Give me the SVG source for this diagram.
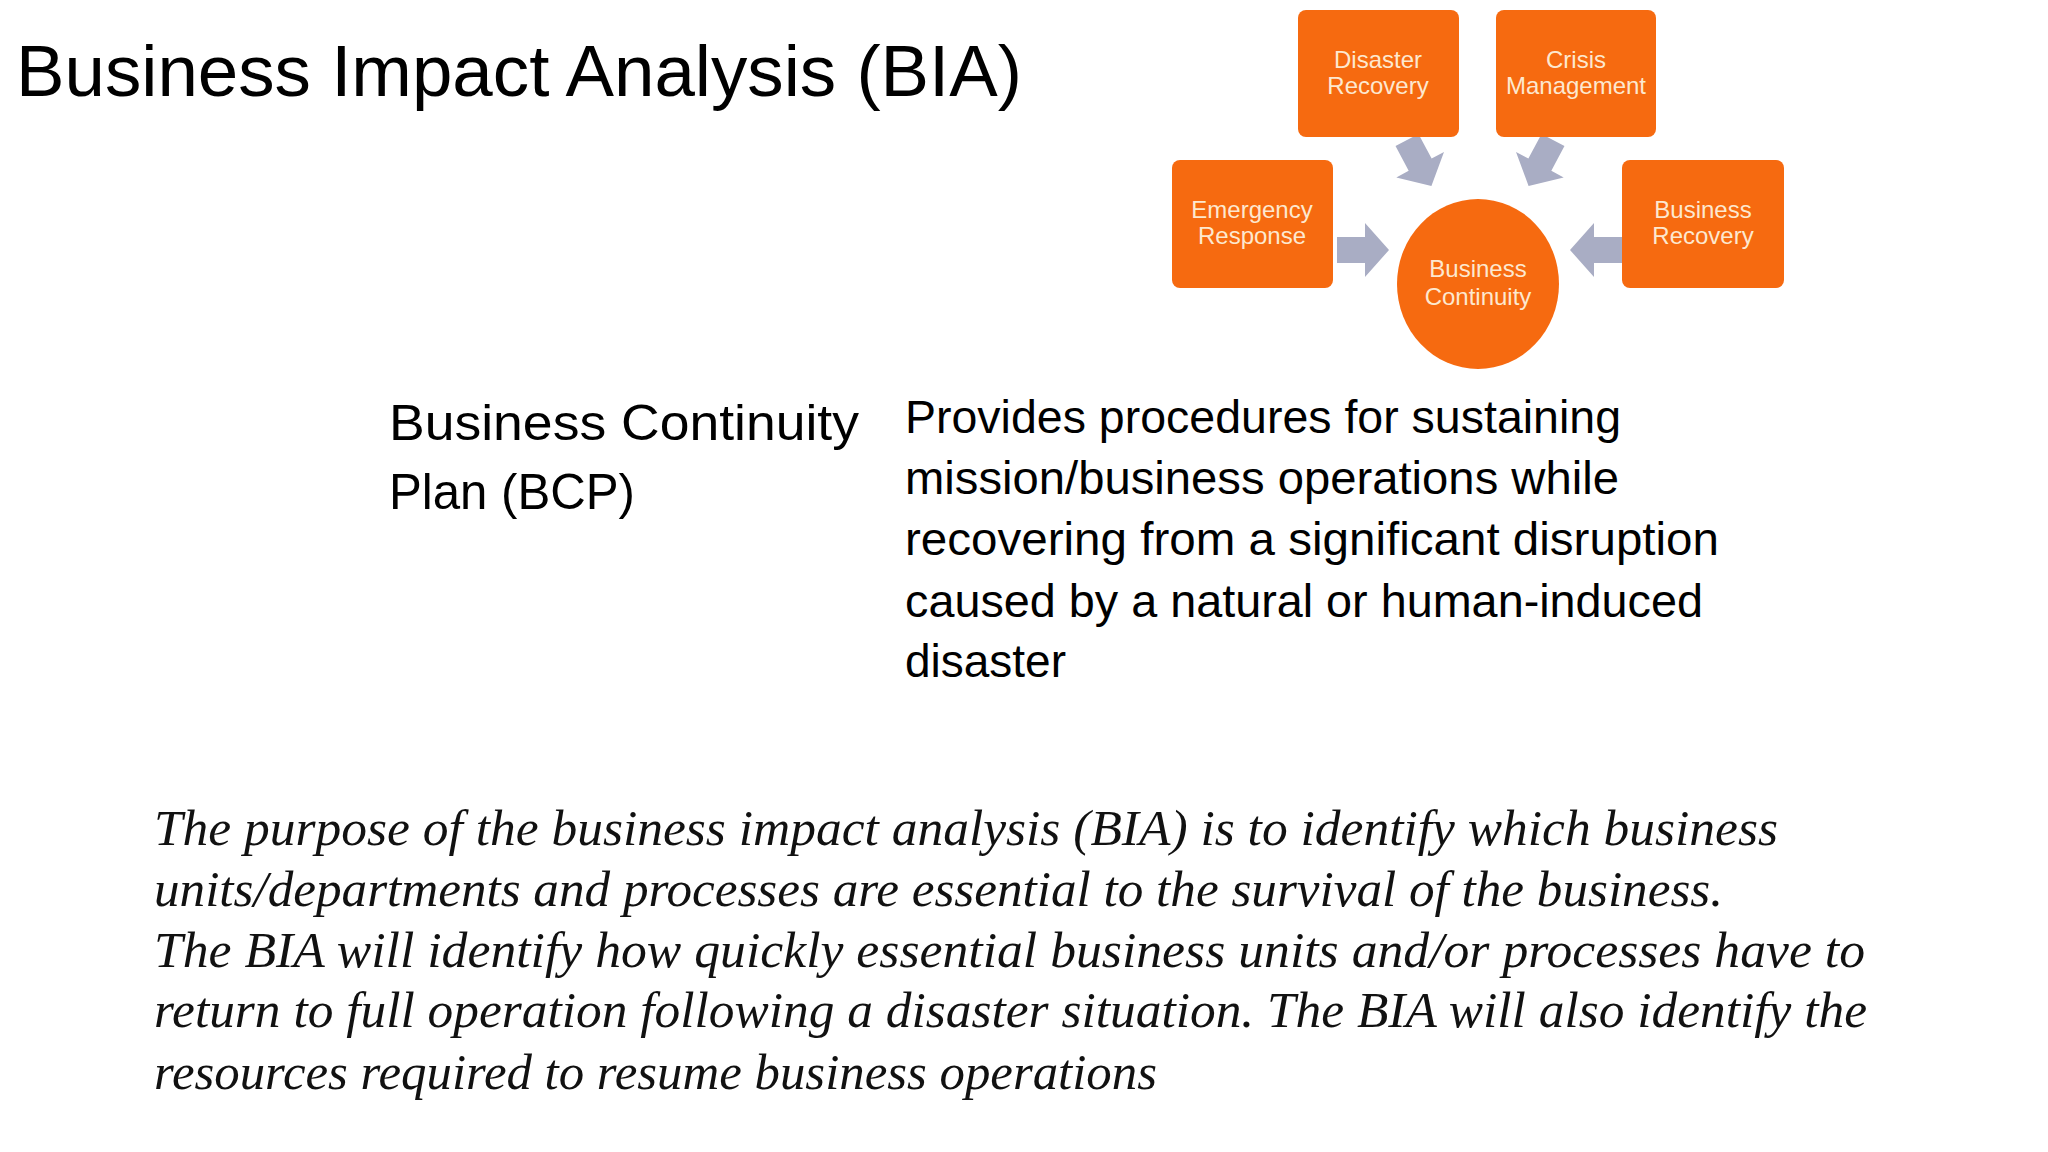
<svg xmlns="http://www.w3.org/2000/svg" width="2048" height="1152" viewBox="0 0 2048 1152">
<defs>
<style>
.box{fill:#f66a10;}
.bt{font-family:"Liberation Sans",Arial,sans-serif;font-size:24px;fill:#fde8cf;text-anchor:middle;}
.arr{fill:#a9adc4;}
.cal{font-family:"Liberation Sans",Arial,sans-serif;fill:#000;}
.it{font-family:"Liberation Serif","Times New Roman",serif;font-style:italic;font-size:50px;fill:#111;}
</style>
<polygon id="ar" points="0,-13 28,-13 28,-27 52,0 28,27 28,13 0,13"/>
</defs>
<rect width="2048" height="1152" fill="#fff"/>
<text class="cal" x="16" y="96" font-size="72" textLength="1006" lengthAdjust="spacingAndGlyphs">Business Impact Analysis (BIA)</text>
<g transform="translate(-7,0)">
<g id="connectors">
<use href="#ar" class="arr" transform="translate(1344,250)"/>
<use href="#ar" class="arr" transform="translate(1629,250) rotate(180)"/>
<use href="#ar" class="arr" transform="translate(1414,140) rotate(62)"/>
<use href="#ar" class="arr" transform="translate(1560,140) rotate(118)"/>
</g>
<g id="disaster"><rect class="box" x="1305" y="10" width="161" height="127" rx="8"/><text class="bt" x="1385" y="68">Disaster</text><text class="bt" x="1385" y="94">Recovery</text></g>
<g id="crisis"><rect class="box" x="1503" y="10" width="160" height="127" rx="8"/><text class="bt" x="1583" y="68">Crisis</text><text class="bt" x="1583" y="94">Management</text></g>
<g id="emergency"><rect class="box" x="1179" y="160" width="161" height="128" rx="8"/><text class="bt" x="1259" y="218">Emergency</text><text class="bt" x="1259" y="244">Response</text></g>
<g id="busrec"><rect class="box" x="1629" y="160" width="162" height="128" rx="8"/><text class="bt" x="1710" y="218">Business</text><text class="bt" x="1710" y="244">Recovery</text></g>
<g id="continuity"><ellipse class="box" cx="1485" cy="284" rx="81" ry="85"/><text class="bt" x="1485" y="277" font-size="25">Business</text><text class="bt" x="1485" y="305" font-size="25">Continuity</text></g>
</g>
<g id="bcp">
<text class="cal" x="389" y="440" font-size="50" textLength="470" lengthAdjust="spacingAndGlyphs">Business Continuity</text>
<text class="cal" x="389" y="509" font-size="50" textLength="246" lengthAdjust="spacingAndGlyphs">Plan (BCP)</text>
</g>
<g id="desc" class="cal" font-size="46">
<text x="905" y="433" textLength="716" lengthAdjust="spacingAndGlyphs">Provides procedures for sustaining</text>
<text x="905" y="494" textLength="714" lengthAdjust="spacingAndGlyphs">mission/business operations while</text>
<text x="905" y="555" textLength="814" lengthAdjust="spacingAndGlyphs">recovering from a significant disruption</text>
<text x="905" y="617" textLength="798" lengthAdjust="spacingAndGlyphs">caused by a natural or human-induced</text>
<text x="905" y="677" textLength="161" lengthAdjust="spacingAndGlyphs">disaster</text>
</g>
<g id="purpose" class="it">
<text x="154" y="845" textLength="1624" lengthAdjust="spacingAndGlyphs">The purpose of the business impact analysis (BIA) is to identify which business</text>
<text x="154" y="906" textLength="1569" lengthAdjust="spacingAndGlyphs">units/departments and processes are essential to the survival of the business.</text>
<text x="154" y="967" textLength="1711" lengthAdjust="spacingAndGlyphs">The BIA will identify how quickly essential business units and/or processes have to</text>
<text x="154" y="1027" textLength="1713" lengthAdjust="spacingAndGlyphs">return to full operation following a disaster situation. The BIA will also identify the</text>
<text x="154" y="1089" textLength="1003" lengthAdjust="spacingAndGlyphs">resources required to resume business operations</text>
</g>
</svg>
